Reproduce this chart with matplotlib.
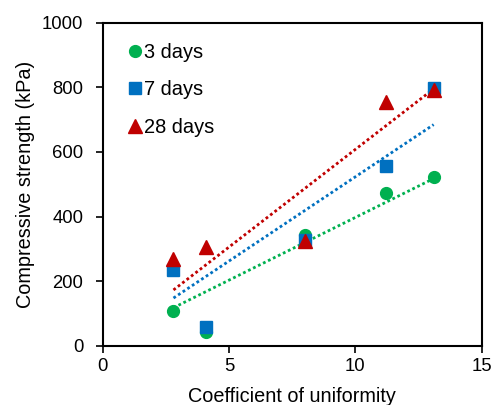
import numpy as np
import matplotlib.pyplot as plt

plt.rcParams['font.family'] = ['Liberation Sans', 'DejaVu Sans']

# Coefficient of uniformity for each sample
cu = [2.8, 4.1, 8.0, 11.2, 13.1]

# Compressive strength (kPa) per curing time
strength_3d = [107, 43, 342, 473, 521]
strength_7d = [234, 57, 329, 556, 798]
strength_28d = [270, 307, 326, 756, 792]

# linear trendlines (slope, intercept)
trend_slope = [38.8, 52.1, 60.4]
trend_intercept = [9.4, 2.1, 3.9]

labels = ['3 days', '7 days', '28 days']
colors = ['#00B050', '#0070C0', '#C00000']
markers = ['o', 's', '^']
sizes = [8.5, 8, 10]

fig = plt.figure(figsize=(4.94, 4.05), dpi=100)
ax = fig.add_axes([0.208, 0.146, 0.767, 0.798])

series = [strength_3d, strength_7d, strength_28d]
x = np.array(cu)
for ys, lab, c, m, ms in zip(series, labels, colors, markers, sizes):
    ax.plot(cu, ys, linestyle='none', marker=m, color=c, markersize=ms,
            label=lab, zorder=3)

for k, b, c in zip(trend_slope, trend_intercept, colors):
    xx = np.array([x.min(), x.max()])
    ax.plot(xx, k * xx + b, linestyle=(0, (1, 1)), color=c, linewidth=2,
            zorder=2)

ax.set_xlim(0, 15)
ax.set_ylim(0, 1000)
ax.set_xticks([0, 5, 10, 15])
ax.set_yticks([0, 200, 400, 600, 800, 1000])
ax.tick_params(direction='out', length=5, width=1.2, labelsize=13.3, colors='black')
ax.tick_params(axis='y', pad=9)
for s in ax.spines.values():
    s.set_linewidth(1.5)
ax.set_xlabel('Coefficient of uniformity', fontsize=14.3, labelpad=9)
ax.set_ylabel('Compressive strength (kPa)', fontsize=14.3, labelpad=5)

ax.legend(loc='upper left', frameon=False, fontsize=14.4, handletextpad=-0.03,
          labelspacing=0.93, handlelength=1.0, borderaxespad=0,
          bbox_to_anchor=(0.037, 0.963))

fig.savefig('out.png', dpi=100)
